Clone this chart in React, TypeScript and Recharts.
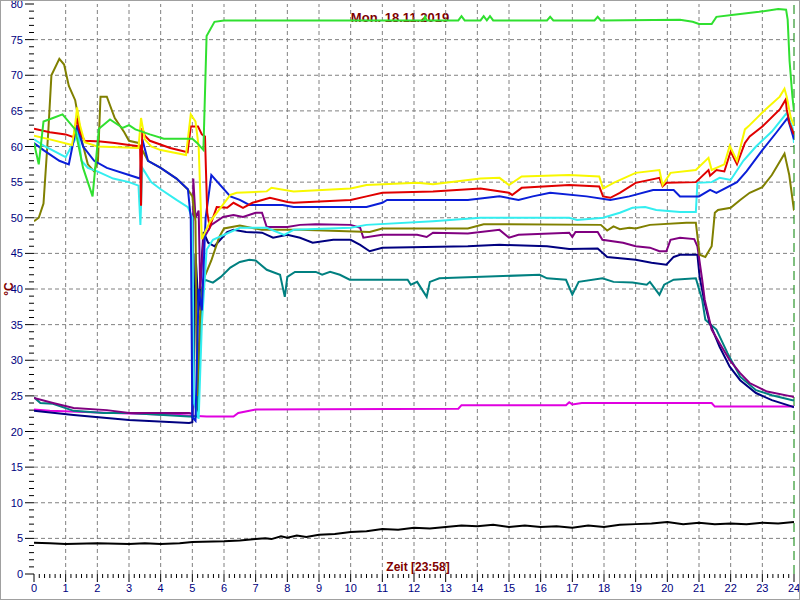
import { LineChart, Line, XAxis, YAxis, ReferenceLine } from "recharts";

type Pt = [number, number];

// hour of day -> °C
const greenSeries: Pt[] = [
  [0, 60.5], [0.15, 57.5], [0.3, 63.5], [0.6, 64], [0.9, 64.5], [1.3, 62.4], [1.55, 57], [1.85, 53],
  [2.05, 62.5], [2.4, 63.8], [2.8, 62.6], [3.0, 63], [3.2, 62.4], [3.66, 61.7], [4.1, 61.1], [5.0, 61.1],
  [5.15, 60.5], [5.35, 59.5], [5.45, 75.5], [5.7, 77.5], [6.0, 77.7], [12.3, 77.7], [12.35, 78.2], [12.4, 77.7],
  [13.4, 77.7], [13.5, 78.3], [13.6, 77.7], [14.1, 77.7], [14.2, 78.3], [14.3, 77.7], [14.4, 78.3], [14.5, 77.7],
  [16.2, 77.7], [16.3, 78.2], [16.4, 77.7], [17.7, 77.7], [17.8, 78.2], [17.9, 77.7], [20.4, 77.8], [20.8, 77.5],
  [21.0, 77.2], [21.4, 77.2], [21.55, 78.2], [22.1, 78.5], [22.9, 78.9], [23.5, 79.3], [23.75, 79.2], [23.8, 77.8],
  [23.86, 72], [23.95, 67], [24, 65],
];

const oliveSeries: Pt[] = [
  [0, 49.5], [0.15, 50], [0.3, 52], [0.45, 62], [0.55, 70], [0.8, 72.3], [0.95, 71.5], [1.1, 68.5],
  [1.3, 66.5], [1.4, 64], [1.5, 61], [1.7, 57.5], [1.9, 56.5], [2.02, 58], [2.1, 67], [2.3, 67], [2.55, 64],
  [2.85, 62], [3.0, 60.8], [3.3, 60.5], [3.6, 58], [4.0, 57], [4.5, 55.5], [4.85, 54], [5.0, 53], [5.1, 49.5],
  [5.15, 25], [5.25, 37], [5.35, 41.3], [5.6, 44], [5.85, 47.3], [6.0, 48.5], [6.5, 48.9], [7.2, 48.3],
  [8.4, 48.3], [10.6, 48], [11.0, 48.5], [13.7, 48.5], [14.2, 49.1], [17.9, 49], [18.1, 48.2], [18.3, 48.8],
  [18.5, 48.4], [18.8, 48.6], [19.0, 48.5], [19.45, 49], [20.6, 49.3], [20.9, 49.3], [21.02, 44.8],
  [21.2, 44.5], [21.4, 46], [21.5, 50.7], [21.6, 51.1], [22.0, 51.4], [22.3, 52.5], [22.6, 53.5], [23.0, 54.3],
  [23.3, 56], [23.7, 59], [23.85, 56], [24, 51],
];

const yellowSeries: Pt[] = [
  [0, 61.5], [0.5, 61], [1.2, 60.2], [1.3, 63], [1.36, 65.5], [1.45, 63], [1.6, 60.6], [2.0, 60], [3.3, 59.8],
  [3.38, 64], [3.5, 61], [3.7, 60], [4.0, 59.5], [4.8, 58.8], [4.95, 64.5], [5.1, 63.5], [5.2, 60], [5.3, 47],
  [5.55, 49.4], [6.2, 53.2], [6.4, 53.5], [7.35, 53.7], [7.5, 54.2], [8.2, 53.7], [10.0, 54.1], [10.5, 54.6],
  [12.1, 54.9], [12.6, 54.7], [14.1, 55.5], [14.7, 55.6], [15.0, 54.6], [15.4, 55.8], [16.9, 56], [17.85, 55.8],
  [17.97, 54.1], [18.3, 54.9], [19.0, 56.3], [19.75, 56.7], [19.85, 54.6], [20.1, 56.3], [20.9, 56.7],
  [21.3, 58.4], [21.4, 56.7], [21.8, 57.5], [21.97, 60.1], [22.2, 58], [22.45, 62.4], [22.6, 63], [23.1, 65.2],
  [23.55, 67], [23.7, 68.1], [23.77, 67], [23.9, 64], [24, 63],
];

const redSeries: Pt[] = [
  [0, 62.5], [0.5, 62], [1.0, 61.7], [1.25, 61.3], [1.35, 64], [1.45, 62], [1.6, 60.8], [2.1, 60.7],
  [2.55, 60.5], [3.0, 60.2], [3.35, 60], [3.38, 51.7], [3.42, 62.6], [3.5, 61.5], [3.66, 60.8], [4.3, 59.8],
  [4.85, 59.2], [4.95, 62.8], [5.18, 62.8], [5.3, 61.7], [5.4, 61.4], [5.43, 56.7], [5.47, 50.7], [5.55, 48.7],
  [5.77, 51.5], [6.1, 51.4], [6.3, 52.1], [6.6, 51.4], [6.9, 52.1], [7.45, 52.8], [8.0, 52.2], [8.2, 52.1],
  [10.0, 52.5], [10.5, 53], [11.0, 53.5], [12.6, 53.7], [14.1, 54.1], [15.0, 53.5], [15.1, 53.2], [15.4, 54.2],
  [16.9, 54.6], [17.85, 54.4], [17.97, 53], [18.2, 52.8], [18.5, 53.5], [19.0, 54.9], [19.75, 55.6],
  [19.85, 54.4], [19.98, 54.9], [20.9, 55], [21.3, 56.7], [21.35, 55.9], [21.55, 56.7], [21.8, 56.5],
  [22.0, 59.3], [22.2, 57.5], [22.45, 60.5], [22.6, 61.4], [23.0, 62.8], [23.55, 65.2], [23.74, 66.6],
  [23.77, 65.2], [23.86, 63.3], [24, 61.7],
];

const blueSeries: Pt[] = [
  [0, 60.5], [0.3, 59.5], [0.8, 58], [1.1, 57.5], [1.35, 63], [1.55, 60], [1.9, 58], [2.3, 57], [3.0, 56],
  [3.35, 55.5], [3.42, 61], [3.6, 58], [4.0, 57], [4.5, 55.5], [4.86, 54], [4.95, 50], [5.0, 22], [5.1, 21.5],
  [5.2, 40], [5.3, 37], [5.42, 50], [5.6, 56], [6.2, 53], [6.5, 52.5], [6.8, 51.8], [7.85, 51.8], [8.2, 51.5],
  [10.5, 51.5], [11.0, 52.1], [11.15, 52.5], [13.7, 52.5], [14.7, 53], [15.3, 52.5], [15.75, 53], [16.3, 53.5],
  [17.45, 53], [18.2, 52.5], [18.8, 53], [19.55, 53.9], [20.2, 53.9], [20.4, 53], [21.0, 53], [21.35, 53.9],
  [21.55, 53.5], [22.2, 55], [22.5, 56.5], [23.0, 59.5], [23.45, 62], [23.8, 64], [24, 61],
];

const cyanSeries: Pt[] = [
  [0, 61], [0.35, 60], [1.0, 58.5], [1.3, 61], [1.38, 62.5], [1.5, 58], [1.7, 57], [2.0, 56.5], [2.5, 55.5],
  [3.0, 55], [3.3, 54.5], [3.36, 49], [3.42, 57], [3.7, 55], [4.0, 54], [4.5, 52.5], [4.86, 51.5], [5.0, 50],
  [5.05, 24], [5.2, 21.8], [5.3, 35], [5.45, 45.5], [5.65, 46.9], [6.5, 48.6], [7.35, 48.6], [7.9, 47.6],
  [8.2, 48.3], [10.0, 48.6], [10.5, 49], [12.6, 49.5], [14.1, 50], [16.9, 50], [17.15, 49.7], [17.97, 50],
  [18.5, 50.7], [18.9, 51.4], [19.3, 51.5], [19.65, 51.1], [20.4, 50.8], [20.9, 50.8], [20.95, 54.9],
  [21.4, 55], [21.65, 55.6], [22.0, 55.3], [22.4, 58], [22.8, 60], [23.3, 62.1], [23.77, 64.7], [23.96, 62.6],
  [24, 60.5],
];

const purpleSeries: Pt[] = [
  [0, 24.7], [0.6, 24], [1.25, 23.3], [2.3, 23], [3.0, 22.6], [4.9, 22.6], [5.0, 22.5], [5.03, 55.5],
  [5.1, 50], [5.2, 51], [5.25, 40], [5.35, 47], [5.6, 49], [5.97, 50.1], [6.3, 50.4], [6.6, 50.1], [7.0, 50.7],
  [7.2, 50.7], [7.35, 48.7], [8.0, 48.7], [8.4, 49], [8.9, 49.1], [10.0, 49], [10.3, 48.6], [10.4, 47.2],
  [11.0, 47.6], [12.1, 47.6], [12.4, 47.3], [12.6, 47.9], [13.7, 47.8], [14.7, 48.3], [15.0, 47.2],
  [15.3, 47.6], [16.9, 47.9], [17.0, 47.3], [17.1, 48], [17.8, 48], [17.95, 46.9], [18.6, 46.5], [19.0, 46],
  [19.45, 45.8], [19.75, 45.3], [19.97, 45.3], [20.1, 46.9], [20.4, 47.2], [20.85, 47], [20.95, 46],
  [21.1, 41.3], [21.18, 38.5], [21.4, 34.3], [21.65, 32.4], [21.97, 30], [22.3, 28.2], [22.6, 26.8],
  [23.15, 25.6], [23.95, 24.9], [24, 24.8],
];

const navySeries: Pt[] = [
  [0, 22.9], [1.25, 22.3], [3.0, 21.6], [4.9, 21.2], [5.0, 21.3], [5.05, 30], [5.1, 45], [5.2, 37],
  [5.35, 48], [5.5, 46.5], [5.7, 46], [6.1, 48], [6.3, 48.3], [6.7, 48], [7.2, 47.9], [7.55, 47.2], [8.0, 47.6],
  [8.4, 47.2], [8.8, 46.5], [9.45, 46.9], [10.0, 46.9], [10.3, 46.2], [10.6, 45.3], [11.0, 45.8], [13.7, 46],
  [14.7, 46.2], [16.2, 46], [16.9, 45.6], [17.8, 45.7], [18.1, 44.5], [19.0, 44.1], [19.5, 43.7],
  [19.97, 43.4], [20.2, 44.5], [20.4, 44.8], [20.95, 44.8], [21.02, 41.7], [21.18, 38], [21.33, 35.3],
  [21.65, 31.9], [21.97, 29.1], [22.3, 27.2], [22.8, 25.4], [23.3, 24.4], [23.95, 23.5], [24, 23.4],
];

const tealSeries: Pt[] = [
  [0, 24.8], [0.2, 24], [0.6, 23.9], [1.25, 22.9], [2.2, 22.6], [3.0, 22.6], [4.9, 22.1], [5.15, 22.1],
  [5.22, 30], [5.3, 40], [5.4, 41.3], [5.65, 40.9], [5.9, 41.7], [6.2, 43], [6.5, 43.8], [6.8, 44.1],
  [7.0, 44], [7.35, 42.7], [7.77, 42], [7.92, 38.9], [8.0, 41.7], [8.24, 42.4], [8.9, 42.4], [9.1, 42],
  [9.35, 42.4], [9.66, 42], [9.97, 41.3], [11.8, 41.3], [11.9, 40.6], [12.1, 41], [12.2, 40.3], [12.4, 38.9],
  [12.5, 41], [12.8, 41.5], [15.97, 42], [16.2, 41.5], [16.8, 41.3], [17.0, 39.2], [17.2, 41], [17.95, 41.5],
  [18.3, 41], [18.9, 40.9], [19.35, 40.6], [19.45, 41], [19.75, 39.2], [19.9, 40.6], [20.2, 41.3],
  [20.9, 41.5], [21.1, 38.5], [21.2, 35.7], [21.55, 34.3], [21.9, 31], [22.3, 27.7], [22.8, 25.8],
  [23.3, 25.1], [23.95, 24.4], [24, 24.4],
];

const magentaSeries: Pt[] = [
  [0, 23.1], [0.5, 22.9], [2.5, 22.6], [4.6, 22.3], [5.0, 22.2], [5.45, 22.1], [6.3, 22.1], [6.45, 22.6],
  [7.0, 23.1], [13.4, 23.2], [13.5, 23.7], [16.8, 23.7], [16.9, 24.1], [17.0, 23.8], [17.3, 24], [21.4, 24],
  [21.5, 23.5], [24, 23.5],
];

const blackSeries: Pt[] = [
  [0, 4.4], [0.5, 4.3], [1.0, 4.2], [2.0, 4.3], [3.0, 4.2], [3.5, 4.3], [4.0, 4.2], [4.6, 4.3], [5.0, 4.5],
  [6.0, 4.6], [6.5, 4.7], [7.0, 4.9], [7.3, 5.0], [7.5, 4.9], [7.8, 5.3], [8.0, 5.1], [8.3, 5.4], [8.6, 5.2],
  [9.0, 5.5], [9.5, 5.6], [10.0, 5.9], [10.5, 6.0], [11.0, 6.3], [11.5, 6.2], [12.0, 6.5], [12.5, 6.4],
  [13.0, 6.6], [13.5, 6.8], [14.0, 6.7], [14.5, 6.9], [15.0, 6.6], [15.5, 6.8], [16.0, 6.6], [16.5, 6.7],
  [17.0, 6.5], [17.5, 6.8], [18.0, 6.6], [18.5, 6.9], [19.0, 7.0], [19.5, 7.1], [20.0, 7.3], [20.5, 7.0],
  [21.0, 7.2], [21.5, 7.0], [22.0, 7.1], [22.5, 7.0], [23.0, 7.2], [23.5, 7.1], [24, 7.3],
];

// drawing order: first one ends up at the bottom
const seriesList: { key: string; color: string; pts: Pt[] }[] = [
  { key: "black", color: "#000000", pts: blackSeries },
  { key: "magenta", color: "#e000e0", pts: magentaSeries },
  { key: "teal", color: "#008080", pts: tealSeries },
  { key: "navy", color: "#000080", pts: navySeries },
  { key: "purple", color: "#800080", pts: purpleSeries },
  { key: "olive", color: "#808000", pts: oliveSeries },
  { key: "cyan", color: "#33eef0", pts: cyanSeries },
  { key: "blue", color: "#0a1ed8", pts: blueSeries },
  { key: "red", color: "#e00000", pts: redSeries },
  { key: "yellow", color: "#f8f800", pts: yellowSeries },
  { key: "green", color: "#30e030", pts: greenSeries },
];

const yTicks = Array.from({ length: 81 }, (_, i) => i);
const yGrid = [5, 10, 15, 20, 25, 30, 35, 40, 45, 50, 55, 60, 65, 70, 75];
const xTicks = Array.from({ length: 24 * 6 + 1 }, (_, i) => i / 6);
const xGrid = Array.from({ length: 23 }, (_, i) => i + 1);

const titleText = "Mon. 18.11.2019";
const xLabelText = "Zeit [23:58]";
const yLabelText = "°C";

const AXIS_FONT = "Arial, 'Liberation Sans', sans-serif";

function YTick(props: any) {
  const { x, y, payload } = props;
  const v = payload.value;
  const major = v % 5 === 0;
  return (
    <g>
      <line x1={x - (major ? 9 : 5)} x2={x} y1={y} y2={y} stroke="#000" />
      {major && (
        <text x={x - 11} y={y} dy={4} textAnchor="end" fontSize={11} fontFamily={AXIS_FONT} fill="#000080">
          {v}
        </text>
      )}
    </g>
  );
}

function XTick(props: any) {
  const { x, y, payload } = props;
  const v = payload.value;
  const major = Math.abs(v - Math.round(v)) < 1e-6;
  return (
    <g>
      <line x1={x} x2={x} y1={y} y2={y + (major ? 8 : 4)} stroke="#000" />
      {major && (
        <text x={x} y={y + 18} textAnchor="middle" fontSize={11} fontFamily={AXIS_FONT} fill="#000080">
          {Math.round(v)}
        </text>
      )}
    </g>
  );
}

export default function App() {
  return (
    <div style={{ position: "absolute", left: 0, top: 0, width: 800, height: 600, background: "#fff" }}>
      <div
        style={{
          position: "absolute", left: 0, top: 10, width: 800, textAlign: "center",
          fontFamily: AXIS_FONT, fontWeight: "bold", fontSize: 13, color: "#800000", zIndex: 0,
        }}
      >
        {titleText}
      </div>
      <div
        style={{
          position: "absolute", left: 368, top: 560, width: 100, textAlign: "center",
          fontFamily: AXIS_FONT, fontWeight: "bold", fontSize: 12, color: "#800000", zIndex: 0,
        }}
      >
        {xLabelText}
      </div>
      <div
        style={{
          position: "absolute", left: -11, top: 282, width: 40, textAlign: "center",
          transform: "rotate(-90deg)", fontFamily: AXIS_FONT, fontWeight: "bold", fontSize: 12,
          color: "#800000", zIndex: 0,
        }}
      >
        {yLabelText}
      </div>
      <div style={{ position: "absolute", left: 0, top: 0, zIndex: 1 }}>
        <LineChart width={800} height={600} margin={{ top: 4, right: 6, bottom: 0, left: 0 }}>
          <XAxis
            xAxisId={0}
            type="number"
            dataKey="x"
            domain={[0, 24]}
            ticks={xTicks}
            interval={0}
            allowDataOverflow
            axisLine={false}
            tickLine={false}
            tickSize={0}
            tickMargin={0}
            height={26}
            tick={XTick}
          />
          <YAxis
            type="number"
            domain={[0, 80]}
            ticks={yTicks}
            interval={0}
            allowDataOverflow
            axisLine={false}
            tickLine={false}
            tickSize={0}
            tickMargin={0}
            width={34}
            tick={YTick}
          />
          {yGrid.map((v) => (
            <ReferenceLine key={"h" + v} y={v} stroke="#808080" strokeDasharray="4 3" />
          ))}
          {xGrid.map((v) => (
            <ReferenceLine key={"v" + v} x={v} stroke="#808080" strokeDasharray="4 3" />
          ))}
          <ReferenceLine x={24} stroke="#008000" strokeDasharray="9 5" />
          {seriesList.map((s) => (
            <Line
              key={s.key}
              data={s.pts.map(([x, y]) => ({ x, y }))}
              dataKey="y"
              type="linear"
              stroke={s.color}
              strokeWidth={2}
              dot={false}
              activeDot={false}
              isAnimationActive={false}
            />
          ))}
        </LineChart>
      </div>
      <div
        style={{
          position: "absolute", left: 0, top: 0, width: 800, height: 600, boxSizing: "border-box",
          border: "1px solid #a0a0a0", zIndex: 2, pointerEvents: "none",
        }}
      />
    </div>
  );
}
